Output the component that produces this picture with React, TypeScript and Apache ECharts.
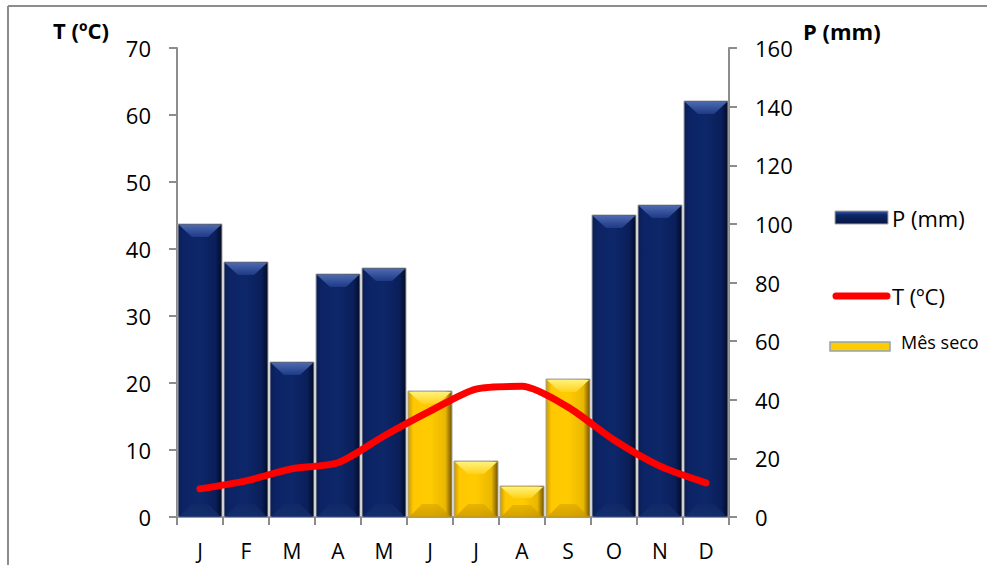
import React, { useEffect, useRef } from "react";
import * as echarts from "echarts";

// Monthly climate data
const months = ["J", "F", "M", "A", "M", "J", "J", "A", "S", "O", "N", "D"];
const precipitation = [100, 87, 53, 83, 85, 43, 19, 10.5, 47, 103, 106.5, 142];
const temperature = [4.2, 5.4, 7.2, 8.1, 12.1, 15.8, 19.1, 19.5, 16.4, 11.5, 7.6, 5.1];
const dryMonth = [0, 0, 0, 0, 0, 1, 1, 1, 1, 0, 0, 0];

const tempTicks = { min: 0, max: 70, interval: 10 };
const precipTicks = { min: 0, max: 160, interval: 20 };

const FONT = "'Open Sans', 'Noto Sans', sans-serif";
const AXIS_GRAY = "#8c8c8c";

const lin = (x: number, y: number, x2: number, y2: number, stops: [number, string][]) => ({
  type: "linear",
  x,
  y,
  x2,
  y2,
  colorStops: stops.map(([offset, color]) => ({ offset, color })),
});

const palettes = {
  wet: {
    body: lin(0, 0, 1, 0, [
      [0, "#0a1d52"],
      [0.12, "#0c2466"],
      [0.5, "#0d2769"],
      [0.85, "#0a1f5a"],
      [1, "#030a22"],
    ]),
    top: lin(0, 0, 0, 1, [
      [0, "#4b68b0"],
      [1, "#1f3a85"],
    ]),
    bottom: lin(0, 0, 0, 1, [
      [0, "#122a66"],
      [1, "#173170"],
    ]),
  },
  dry: {
    body: lin(0, 0, 1, 0, [
      [0, "#c99800"],
      [0.12, "#ffc800"],
      [0.5, "#ffcb00"],
      [0.85, "#eab700"],
      [1, "#6e5300"],
    ]),
    top: lin(0, 0, 0, 1, [
      [0, "#fff27a"],
      [1, "#ffd21a"],
    ]),
    bottom: lin(0, 0, 0, 1, [
      [0, "#e0aa00"],
      [1, "#c29200"],
    ]),
  },
};

const barData = precipitation.map((p, i) => [i, p, dryMonth[i]]);

function renderBevelBar(params: any, api: any) {
  const idx = api.value(0);
  const val = api.value(1);
  const isDry = api.value(2) === 1;
  const top = api.coord([idx, val]);
  const base = api.coord([idx, 0]);
  const band = api.size([1, 0])[0];
  const w = band * 0.935;
  const left = Math.round(top[0] - w / 2);
  const right = Math.round(top[0] + w / 2);
  const y0 = Math.round(top[1]);
  const y1 = Math.round(base[1]);
  const h = y1 - y0;
  const b = Math.min(13, h / 2.6);
  const pal = isDry ? palettes.dry : palettes.wet;
  return {
    type: "group",
    children: [
      {
        type: "rect",
        shape: { x: left, y: y0, width: right - left, height: h },
        style: { fill: pal.body, stroke: "#a6a6a6", lineWidth: 1 },
      },
      {
        type: "polygon",
        shape: {
          points: [
            [left + 1, y0 + 1],
            [right - 1, y0 + 1],
            [right - 1 - b, y0 + b],
            [left + 1 + b, y0 + b],
          ],
        },
        style: { fill: pal.top },
      },
      {
        type: "polygon",
        shape: {
          points: [
            [left + 1, y1],
            [right - 1, y1],
            [right - 1 - b, y1 - b],
            [left + 1 + b, y1 - b],
          ],
        },
        style: { fill: pal.bottom, opacity: 0.7 },
      },
    ],
  };
}

export default function App() {
  const ref = useRef<HTMLDivElement>(null);

  useEffect(() => {
    if (!ref.current) return;
    const chart = echarts.init(ref.current, undefined, { renderer: "svg" });

    const option: any = {
      animation: false,
      backgroundColor: "#ffffff",
      grid: { left: 177, right: 258, top: 48, bottom: 48, containLabel: false },
      xAxis: {
        type: "category",
        data: months,
        boundaryGap: true,
        axisLine: { show: true, lineStyle: { color: AXIS_GRAY, width: 2 } },
        axisTick: { show: true, length: 8, lineStyle: { color: AXIS_GRAY, width: 2 } },
        axisLabel: { margin: 23, fontSize: 21, color: "#000", fontFamily: FONT },
        splitLine: { show: false },
      },
      yAxis: [
        {
          type: "value",
          position: "left",
          ...tempTicks,
          axisLine: { show: true, lineStyle: { color: AXIS_GRAY, width: 2 } },
          axisTick: { show: true, length: 8, lineStyle: { color: AXIS_GRAY, width: 2 } },
          axisLabel: { margin: 26, fontSize: 22, color: "#000", fontFamily: FONT },
          splitLine: { show: false },
        },
        {
          type: "value",
          position: "right",
          ...precipTicks,
          axisLine: { show: true, lineStyle: { color: AXIS_GRAY, width: 2 } },
          axisTick: { show: true, length: 8, lineStyle: { color: AXIS_GRAY, width: 2 } },
          axisLabel: { margin: 26, fontSize: 22, color: "#000", fontFamily: FONT },
          splitLine: { show: false },
        },
      ],
      series: [
        {
          name: "P (mm)",
          type: "custom",
          yAxisIndex: 1,
          z: 2,
          data: barData,
          encode: { x: 0, y: 1 },
          renderItem: renderBevelBar,
        },
        {
          name: "T (ºC)",
          type: "line",
          yAxisIndex: 0,
          z: 3,
          data: temperature,
          smooth: 0.25,
          showSymbol: false,
          lineStyle: { color: "#ff0000", width: 7, cap: "round", join: "round" },
        },
      ],
      graphic: [
        // outer frame
        { type: "line", shape: { x1: 8, y1: 6, x2: 987, y2: 6 }, style: { stroke: "#8c8c8c", lineWidth: 2 } },
        { type: "line", shape: { x1: 8, y1: 6, x2: 8, y2: 565 }, style: { stroke: "#8c8c8c", lineWidth: 2 } },
        // axis titles
        {
          type: "text",
          x: 53,
          y: 30,
          style: { text: "T (ºC)", font: `bold 22px ${FONT}`, fill: "#000", verticalAlign: "middle", align: "left" },
        },
        {
          type: "text",
          x: 803,
          y: 31,
          style: { text: "P (mm)", font: `bold 22px ${FONT}`, fill: "#000", verticalAlign: "middle", align: "left" },
        },
        // legend
        {
          type: "rect",
          shape: { x: 835, y: 211, width: 53, height: 13 },
          style: {
            fill: lin(0, 0, 0, 1, [
              [0, "#3b5aa6"],
              [0.3, "#0d2769"],
              [1, "#061642"],
            ]),
            stroke: "#a6a6a6",
            lineWidth: 1,
          },
        },
        {
          type: "text",
          x: 892,
          y: 218,
          style: { text: "P (mm)", font: `22px ${FONT}`, fill: "#000", verticalAlign: "middle", align: "left" },
        },
        {
          type: "line",
          shape: { x1: 836, y1: 296, x2: 887, y2: 296 },
          style: { stroke: "#ff0000", lineWidth: 7, lineCap: "round" },
        },
        {
          type: "text",
          x: 892,
          y: 296,
          style: { text: "T (ºC)", font: `22px ${FONT}`, fill: "#000", verticalAlign: "middle", align: "left" },
        },
        {
          type: "rect",
          shape: { x: 830, y: 342, width: 60, height: 9 },
          style: { fill: "#ffcc00", stroke: "#8ea3bf", lineWidth: 1.5 },
        },
        {
          type: "text",
          x: 901,
          y: 342,
          style: { text: "Mês seco", font: `18px ${FONT}`, fill: "#000", verticalAlign: "middle", align: "left" },
        },
      ],
    };

    chart.setOption(option);
    return () => chart.dispose();
  }, []);

  return (
    <div
      ref={ref}
      style={{ position: "fixed", left: 0, top: 0, width: 987, height: 565, background: "#fff" }}
    />
  );
}
